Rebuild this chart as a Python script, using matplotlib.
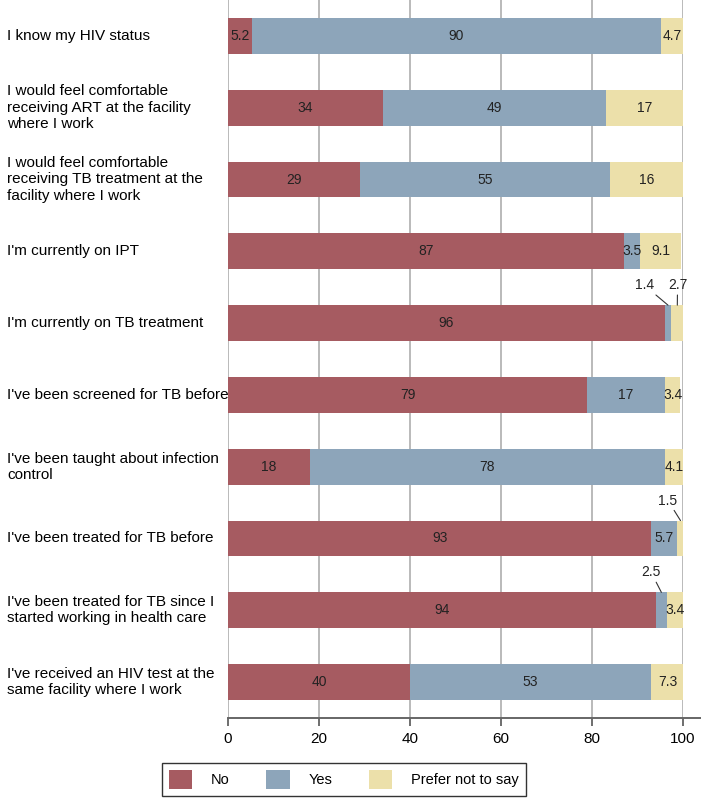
import numpy as np
import matplotlib
matplotlib.use("Agg")
import matplotlib.pyplot as plt
import matplotlib.transforms as mtransforms

plt.rcParams["font.family"] = ["Liberation Sans", "DejaVu Sans"]

questions = [
    "I know my HIV status",
    "I would feel comfortable\nreceiving ART at the facility\nwhere I work",
    "I would feel comfortable\nreceiving TB treatment at the\nfacility where I work",
    "I'm currently on IPT",
    "I'm currently on TB treatment",
    "I've been screened for TB before",
    "I've been taught about infection\ncontrol",
    "I've been treated for TB before",
    "I've been treated for TB since I\nstarted working in health care",
    "I've received an HIV test at the\nsame facility where I work",
]
no_vals = [5.2, 34, 29, 87, 96, 79, 18, 93, 94, 40]
yes_vals = [90, 49, 55, 3.5, 1.4, 17, 78, 5.7, 2.5, 53]
pns_vals = [4.7, 17, 16, 9.1, 2.7, 3.4, 4.1, 1.5, 3.4, 7.3]

series = ["No", "Yes", "Prefer not to say"]
colors = ["#a65b61", "#8da5ba", "#ece0aa"]

fig = plt.figure(figsize=(7.01, 8.0), dpi=100)
ax = fig.add_axes([228 / 701, 1 - 718 / 800, (683 - 228) / 701, 718 / 800])

y = np.arange(len(questions))
left = np.zeros(len(questions))
data = [no_vals, yes_vals, pns_vals]
bars = []
for vals, col, name in zip(data, colors, series):
    vals = np.array(vals, dtype=float)
    b = ax.barh(y, vals, left=left, height=0.5, color=col, label=name, zorder=3)
    bars.append(b)
    for i, v in enumerate(vals):
        if v >= 3:
            ax.text(left[i] + v / 2, i, f"{v:g}", ha="center", va="center",
                    fontsize=10, color="#222222", zorder=4)
    left = left + vals

# small segments labelled outside with leader lines
def callout(row, seg, tx, dy=0.43):
    starts = [0, no_vals[row], no_vals[row] + yes_vals[row]]
    vals = [no_vals[row], yes_vals[row], pns_vals[row]]
    x0 = starts[seg] + vals[seg] / 2
    ax.annotate(f"{vals[seg]:g}", xy=(x0, row - 0.25), xytext=(tx, row - dy),
                ha="center", va="bottom", fontsize=10, color="#222222",
                arrowprops=dict(arrowstyle="-", color="#333333", lw=0.8,
                                shrinkA=0, shrinkB=0),
                annotation_clip=False, zorder=5)

callout(4, 1, 91.5)
callout(4, 2, 98.8)
callout(7, 2, 96.7)
callout(8, 1, 93.0)

ax.set_xlim(0, 100)
ax.set_ylim(len(questions) - 0.5, -0.5)
ax.set_xticks([0, 20, 40, 60, 80, 100])
ax.tick_params(axis="x", labelsize=11, length=6, width=1.2, color="#555555", pad=4)
ax.set_yticks([])
for s in ["top", "right", "left", "bottom"]:
    ax.spines[s].set_visible(False)
# bottom axis line runs a little past 100 as in the original
ax.plot([0, 104], [len(questions) - 0.5] * 2, color="#666666", lw=1.4,
        clip_on=False, zorder=2)
ax.xaxis.grid(True, color="#b4b4b4", lw=1.3, zorder=0)
ax.set_axisbelow(True)

trans = mtransforms.blended_transform_factory(fig.transFigure, ax.transData)
for i, q in enumerate(questions):
    ax.text(7 / 701, i, q, transform=trans, ha="left",
            va="center", fontsize=11, linespacing=1.2)

fig.legend(handles=bars, labels=series, loc="center", ncol=3,
           bbox_to_anchor=(344 / 701, 1 - 779.5 / 800), frameon=True,
           fancybox=False, edgecolor="black", fontsize=10.5,
           handlelength=1.6, handleheight=1.6, columnspacing=2.5,
           handletextpad=1.3, borderpad=0.5)

fig.savefig("out.png", dpi=100)
